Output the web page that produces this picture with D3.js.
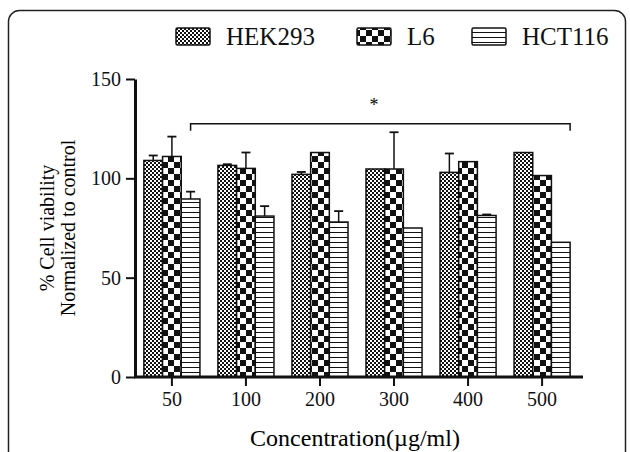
<!DOCTYPE html>
<meta charset="utf-8">
<script src="https://d3js.org/d3.v7.min.js"></script>
<style>
    body { margin: 0; background: #fff; }
</style>
<div id="chart"></div>
<script>

    // data
    var concentrations = ["50", "100", "200", "300", "400", "500"];
    var cellLines = ["HEK293", "L6", "HCT116"];
    var hek293 = [109, 106.5, 102, 104.7, 103, 113];
    var hek293Err = [2.5, 0.6, 1.2, 0, 9.5, 0];
    var l6 = [111, 105, 113, 104.7, 108.4, 101.4];
    var l6Err = [10, 8, 0, 18.5, 0, 0];
    var hct116 = [89.6, 81, 78, 75, 81.3, 67.8];
    var hct116Err = [3.7, 5, 5.5, 0, 0.5, 0];
    var yTicks = [0, 50, 100, 150];

    var series = [
        { name: "HEK293", values: hek293, err: hek293Err, fill: "url(#fine)" },
        { name: "L6", values: l6, err: l6Err, fill: "url(#coarse)" },
        { name: "HCT116", values: hct116, err: hct116Err, fill: "url(#lines)" }
    ];

    var SERIF = "'Liberation Serif', 'Times New Roman', serif";
    var W = 630, H = 452;
    var svg = d3.select("#chart").append("svg")
        .attr("width", W)
        .attr("height", H);

    // patterns
    var defs = svg.append("defs");
    var p1 = defs.append("pattern").attr("id", "fine")
        .attr("patternUnits", "userSpaceOnUse").attr("width", 4).attr("height", 4);
    p1.append("rect").attr("width", 4).attr("height", 4).attr("fill", "#fff");
    p1.append("rect").attr("width", 2).attr("height", 2).attr("fill", "#111");
    p1.append("rect").attr("x", 2).attr("y", 2).attr("width", 2).attr("height", 2).attr("fill", "#111");

    var p2 = defs.append("pattern").attr("id", "coarse")
        .attr("patternUnits", "userSpaceOnUse").attr("width", 12).attr("height", 12);
    p2.append("rect").attr("width", 12).attr("height", 12).attr("fill", "#fff");
    p2.append("rect").attr("width", 6).attr("height", 6).attr("fill", "#111");
    p2.append("rect").attr("x", 6).attr("y", 6).attr("width", 6).attr("height", 6).attr("fill", "#111");

    var p3 = defs.append("pattern").attr("id", "lines")
        .attr("patternUnits", "userSpaceOnUse").attr("width", 6).attr("height", 5);
    p3.append("rect").attr("width", 6).attr("height", 5).attr("fill", "#fff");
    p3.append("rect").attr("y", 2).attr("width", 6).attr("height", 1).attr("fill", "#111");

    // rounded frame
    svg.append("rect")
        .attr("x", 8.5).attr("y", 10.5)
        .attr("width", 617).attr("height", 470)
        .attr("rx", 11)
        .attr("fill", "none")
        .attr("stroke", "#222")
        .attr("stroke-width", 1.5);

    // scales
    var x = d3.scaleBand()
        .domain(concentrations)
        .range([135, 579])
        .paddingInner(0.243)
        .paddingOuter(0.12);
    var x1 = d3.scaleBand()
        .domain(cellLines)
        .range([0, x.bandwidth()]);
    var y = d3.scaleLinear()
        .domain([0, 150])
        .range([377, 79]);

    // bars
    series.forEach(function (s) {
        var g = svg.append("g");
        g.selectAll("rect")
            .data(s.values)
            .enter()
            .append("rect")
            .attr("x", function (d, i) { return x(concentrations[i]) + x1(s.name); })
            .attr("y", function (d) { return y(d); })
            .attr("width", x1.bandwidth())
            .attr("height", function (d) { return y(0) - y(d); })
            .attr("fill", s.fill)
            .attr("stroke", "#111")
            .attr("stroke-width", 1.5);

        // upper error bars
        s.values.forEach(function (d, i) {
            if (!s.err[i]) return;
            var cx = x(concentrations[i]) + x1(s.name) + x1.bandwidth() / 2;
            g.append("line")
                .attr("x1", cx).attr("x2", cx)
                .attr("y1", y(d)).attr("y2", y(d + s.err[i]))
                .attr("stroke", "#111").attr("stroke-width", 1.5);
            g.append("line")
                .attr("x1", cx - 4.5).attr("x2", cx + 4.5)
                .attr("y1", y(d + s.err[i])).attr("y2", y(d + s.err[i]))
                .attr("stroke", "#111").attr("stroke-width", 1.8);
        });
    });

    // y axis
    var yAxis = svg.append("g")
        .attr("transform", "translate(135,0)")
        .call(d3.axisLeft(y).tickValues(yTicks).tickSize(9).tickSizeOuter(0).tickPadding(5));
    yAxis.attr("font-family", null);
    yAxis.selectAll("path").attr("stroke", "#111").attr("stroke-width", 3);
    yAxis.selectAll("line").attr("stroke", "#111").attr("stroke-width", 2);
    yAxis.selectAll("text")
        .style("font-family", SERIF)
        .style("font-size", "20px")
        .attr("fill", "#111");

    // x axis
    svg.append("line")
        .attr("x1", 134).attr("x2", 583)
        .attr("y1", y(0)).attr("y2", y(0))
        .attr("stroke", "#111").attr("stroke-width", 3);
    var xAxis = svg.append("g")
        .attr("transform", "translate(0," + y(0) + ")")
        .call(d3.axisBottom(x).tickSize(9).tickSizeOuter(0).tickPadding(6));
    xAxis.attr("font-family", null);
    xAxis.select(".domain").remove();
    xAxis.selectAll("line").attr("stroke", "#111").attr("stroke-width", 2);
    xAxis.selectAll("text")
        .style("font-family", SERIF)
        .style("font-size", "20px")
        .attr("fill", "#111");

    // significance bracket
    var bx0 = x("50") + x1("HCT116") + x1.bandwidth() / 2,
        bx1 = x("500") + x1("HCT116") + x1.bandwidth();
    var by = y(127.5), byEnd = y(124);
    svg.append("path")
        .attr("d", "M" + bx0 + "," + byEnd + "V" + by + "H" + bx1 + "V" + byEnd)
        .attr("fill", "none")
        .attr("stroke", "#111")
        .attr("stroke-width", 1.5);
    svg.append("text")
        .attr("x", x("300") + x.bandwidth() / 2 - 20)
        .attr("y", y(134))
        .attr("text-anchor", "middle")
        .style("font-family", SERIF)
        .style("font-size", "18px")
        .text("*");

    // axis titles
    svg.append("text")
        .attr("transform", "translate(54," + (y(75)) + ") rotate(-90)")
        .attr("text-anchor", "middle")
        .style("font-family", SERIF)
        .style("font-size", "20px")
        .text("% Cell viability");
    svg.append("text")
        .attr("transform", "translate(75," + (y(75)) + ") rotate(-90)")
        .attr("text-anchor", "middle")
        .style("font-family", SERIF)
        .style("font-size", "20px")
        .text("Normalized to control");
    svg.append("text")
        .attr("x", 355)
        .attr("y", 446)
        .attr("text-anchor", "middle")
        .style("font-family", SERIF)
        .style("font-size", "24px")
        .text("Concentration(\u00b5g/ml)");

    // legend
    var legendX = [176, 357, 472];
    var legend = svg.append("g");
    series.forEach(function (s, i) {
        legend.append("rect")
            .attr("x", legendX[i]).attr("y", 28)
            .attr("width", 34).attr("height", 17)
            .attr("rx", 1.5)
            .attr("fill", s.fill)
            .attr("stroke", "#111")
            .attr("stroke-width", 1.5);
        legend.append("text")
            .attr("x", legendX[i] + 50)
            .attr("y", 45)
            .style("font-family", SERIF)
            .style("font-size", "25px")
            .attr("fill", "#111")
            .text(s.name);
    });

</script>
